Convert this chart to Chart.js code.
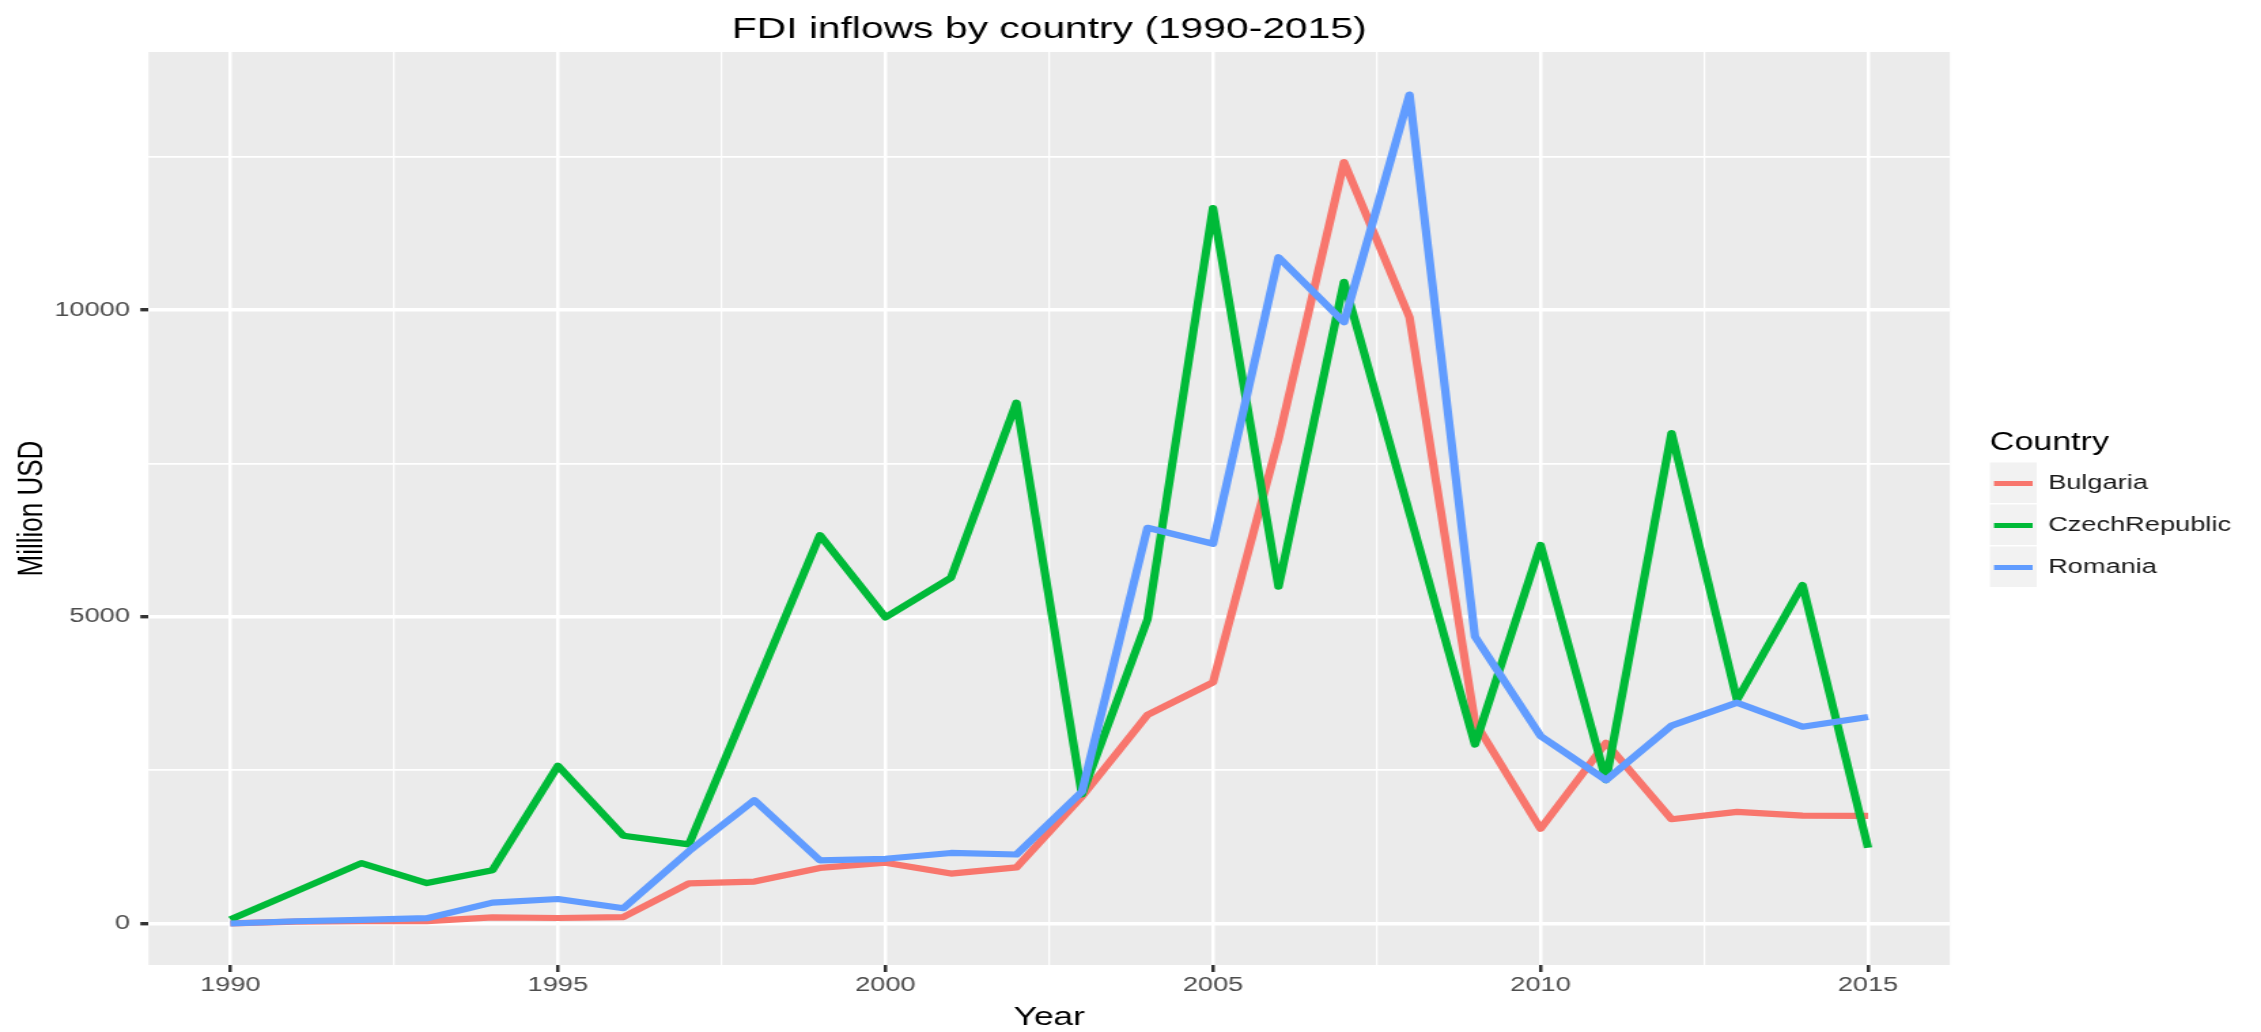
<!DOCTYPE html>
<html>
<head>
<meta charset="utf-8">
<title>FDI inflows by country (1990-2015)</title>
<script src="https://cdn.jsdelivr.net/npm/chart.js@4.4.1/dist/chart.umd.min.js"></script>
<style>
  html, body { margin: 0; padding: 0; background: #fff; overflow: hidden; }
  /* the source picture is stretched sideways, so the whole chart is too */
  #wrap { width: 1663px; height: 1032px; transform: scaleX(1.3596); transform-origin: 0 0; }
</style>
</head>
<body>
<div id="wrap"><canvas id="fdi" width="1663" height="1032"></canvas></div>
<script>
const years = [1990, 1991, 1992, 1993, 1994, 1995, 1996, 1997, 1998, 1999, 2000, 2001, 2002,
  2003, 2004, 2005, 2006, 2007, 2008, 2009, 2010, 2011, 2012, 2013, 2014, 2015];
const bulgaria = [4, 30, 40, 40, 100, 90, 105, 655, 684, 906, 990, 814, 915,
  2070, 3400, 3930, 7890, 12410, 9880, 3280, 1545, 2945, 1700, 1820, 1760, 1755];
const czechRepublic = [65, 525, 985, 660, 868, 2570, 1430, 1290, 3810, 6330, 4990, 5636, 8490,
  2103, 4955, 11660, 5490, 10460, 6690, 2917, 6171, 2337, 7995, 3646, 5517, 1234];
const romania = [0, 37, 60, 87, 340, 400, 250, 1180, 2010, 1030, 1055, 1150, 1125,
  2150, 6450, 6190, 10860, 9800, 13510, 4675, 3057, 2337, 3226, 3600, 3207, 3366];

const countries = ["Bulgaria", "CzechRepublic", "Romania"];
const colors = ["#F8766D", "#00BA38", "#619CFF"];
const xTickLabels = [1990, 1995, 2000, 2005, 2010, 2015];
const xMinorTicks = [1992.5, 1997.5, 2002.5, 2007.5, 2012.5];
const yTickLabels = [0, 5000, 10000];
const yMinorTicks = [2500, 7500, 12500];

const chartTitle = "FDI inflows by country (1990-2015)";
const xTitle = "Year";
const yTitle = "Million USD";
const legendTitle = "Country";

const FONT = '"Liberation Sans", Arial, Helvetica, sans-serif';

function toPoints(values) {
  return years.map((yr, i) => ({ x: yr, y: values[i] }));
}

function sortedTicks(major, minor) {
  return major.concat(minor).sort((a, b) => a - b).map((v) => ({ value: v }));
}

//grey panel behind the grid
const panelPlugin = {
  id: "panel",
  beforeDraw(chart) {
    const { ctx, chartArea: { left, top, width, height } } = chart;
    ctx.save();
    ctx.fillStyle = "#EBEBEB";
    ctx.fillRect(left, top, width, height);
    ctx.restore();
  },
};

//titles and a ggplot style legend
const textPlugin = {
  id: "ggText",
  afterDraw(chart) {
    const { ctx, chartArea: { left, right, top, bottom } } = chart;
    const midX = (left + right) / 2;
    ctx.save();
    ctx.fillStyle = "#000";
    ctx.textAlign = "center";
    ctx.textBaseline = "alphabetic";
    ctx.font = "30px " + FONT;
    ctx.fillText(chartTitle, midX, 38);

    ctx.font = "26px " + FONT;
    ctx.fillText(xTitle, midX, 1025);

    ctx.save();
    ctx.translate(31, (top + bottom) / 2);
    ctx.rotate(-Math.PI / 2);
    ctx.fillText(yTitle, 0, 0);
    ctx.restore();

    //legend
    const x0 = 1463.6;
    const keyTop = 462.5;
    const keyH = 42;
    const keyW = 34.4;
    ctx.textAlign = "left";
    ctx.font = "25px " + FONT;
    ctx.fillText(legendTitle, x0, 450);
    chart.data.datasets.forEach((ds, i) => {
      const y = keyTop + i * keyH;
      ctx.fillStyle = "#F2F2F2";
      ctx.fillRect(x0, y, keyW, keyH - 1.5);
      ctx.strokeStyle = ds.borderColor;
      ctx.lineWidth = 5;
      ctx.beginPath();
      ctx.moveTo(x0 + 3, y + keyH / 2);
      ctx.lineTo(x0 + keyW - 3, y + keyH / 2);
      ctx.stroke();
      ctx.fillStyle = "#1a1a1a";
      ctx.font = "20px " + FONT;
      ctx.textBaseline = "middle";
      ctx.fillText(ds.label, x0 + keyW + 8.4, y + keyH / 2);
      ctx.textBaseline = "alphabetic";
    });
    ctx.restore();
  },
};

const seriesValues = [bulgaria, czechRepublic, romania];
const datasets = countries.map((name, i) => ({
  label: name,
  data: toPoints(seriesValues[i]),
  borderColor: colors[i],
  backgroundColor: colors[i],
  borderWidth: 6.2,
  borderJoinStyle: "round",
  pointRadius: 0,
  pointHoverRadius: 0,
  tension: 0,
  fill: false,
  order: countries.length - i,
}));

new Chart(document.getElementById("fdi"), {
  type: "line",
  data: { datasets: datasets },
  plugins: [panelPlugin, textPlugin],
  options: {
    responsive: false,
    devicePixelRatio: 1,
    animation: false,
    events: [],
    layout: { padding: { top: 52, right: 228.8, bottom: 0, left: 0 } },
    plugins: {
      legend: { display: false },
      title: { display: false },
      tooltip: { enabled: false },
    },
    scales: {
      x: {
        type: "linear",
        min: 1988.75,
        max: 2016.25,
        afterBuildTicks(scale) {
          scale.ticks = sortedTicks(xTickLabels, xMinorTicks);
        },
        afterFit(scale) {
          scale.height = 67;
        },
        border: { display: false },
        grid: {
          color: "#FFFFFF",
          lineWidth: (c) => (c.tick && xTickLabels.includes(c.tick.value) ? 2.5 : 1.25),
          drawTicks: true,
          tickLength: 7,
          tickWidth: 2.5,
          tickColor: (c) => (c.tick && xTickLabels.includes(c.tick.value) ? "#333333" : "rgba(0,0,0,0)"),
        },
        ticks: {
          autoSkip: false,
          maxRotation: 0,
          minRotation: 0,
          padding: 1,
          color: "#4D4D4D",
          font: { family: FONT, size: 20 },
          callback: (v) => (xTickLabels.includes(v) ? String(v) : ""),
        },
      },
      y: {
        type: "linear",
        min: -676,
        max: 14205,
        afterBuildTicks(scale) {
          scale.ticks = sortedTicks(yTickLabels, yMinorTicks);
        },
        afterFit(scale) {
          scale.width = 109.2;
        },
        border: { display: false },
        grid: {
          color: "#FFFFFF",
          lineWidth: (c) => (c.tick && yTickLabels.includes(c.tick.value) ? 3.4 : 1.7),
          drawTicks: true,
          tickLength: 6,
          tickWidth: 3.4,
          tickColor: (c) => (c.tick && yTickLabels.includes(c.tick.value) ? "#333333" : "rgba(0,0,0,0)"),
        },
        ticks: {
          autoSkip: false,
          padding: 7.6,
          color: "#4D4D4D",
          font: { family: FONT, size: 20 },
          callback: (v) => (yTickLabels.includes(v) ? String(v) : ""),
        },
      },
    },
  },
});
</script>
</body>
</html>
